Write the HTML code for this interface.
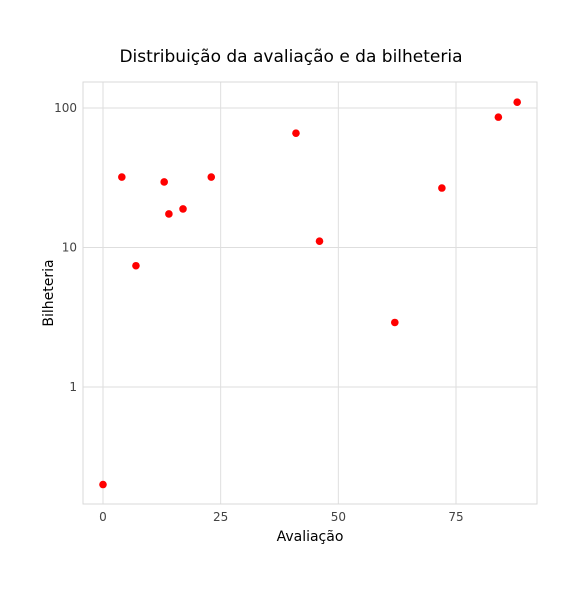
<!DOCTYPE html>
<html><head><meta charset="utf-8"><style>
body{margin:0;background:#fff;font-family:"Liberation Sans","DejaVu Sans",sans-serif;}
</style></head><body>
<svg id="chart" width="584" height="584" xmlns="http://www.w3.org/2000/svg">
<rect width="584" height="584" fill="#fff"/>
<text x="291" y="62" text-anchor="middle" font-size="17" fill="#000" font-family="DejaVu Sans, sans-serif">Distribuição da avaliação e da bilheteria</text>
<g id="grid"></g>
<rect x="83" y="82" width="454" height="422" fill="none" stroke="#d9d9d9" stroke-width="1"/>
<g id="ticks"></g>
<g id="points"></g>
<text x="310" y="541" text-anchor="middle" font-size="14" fill="#000" font-family="DejaVu Sans, sans-serif">Avaliação</text>
<text transform="translate(53,293) rotate(-90)" text-anchor="middle" font-size="14" fill="#000" font-family="DejaVu Sans, sans-serif">Bilheteria</text>
</svg>
<script>
const avaliacao=[0,4,7,13,14,17,23,41,46,62,72,84,88];
const bilheteria=[0.2,32,7.4,29.5,17.4,18.9,32,66,11.1,2.9,26.7,86,110];
const xTicks=[0,25,50,75];
const yTicks=[1,10,100];
const yTickLabels=["1","10","100"];
const NS="http://www.w3.org/2000/svg";
function xs(v){return 103+v*(456-103)/75;}
function ys(v){return 387-Math.log10(v)*139.5;}
const grid=document.getElementById('grid'),ticks=document.getElementById('ticks'),pts=document.getElementById('points');
function mk(tag,attrs,parent){const e=document.createElementNS(NS,tag);for(const k in attrs)e.setAttribute(k,attrs[k]);parent.appendChild(e);return e;}
xTicks.forEach(t=>{
  const l=mk('line',{x1:xs(t),x2:xs(t),y1:82,y2:504,stroke:'#dedede'},grid);
  
  
  const tx=mk('text',{x:xs(t),y:521,'text-anchor':'middle','font-size':12,fill:'#444','font-family':'DejaVu Sans, sans-serif'},ticks);
  tx.textContent=t;
  
  
});
yTicks.forEach((t,i)=>{
  const l=mk('line',{x1:83,x2:537,y1:ys(t),y2:ys(t),stroke:'#dedede'},grid);
  
  
  const tx=mk('text',{x:77,y:ys(t)+4,'text-anchor':'end','font-size':12,fill:'#444','font-family':'DejaVu Sans, sans-serif'},ticks);
  tx.textContent=yTickLabels[i];
  
  
});
avaliacao.forEach((a,i)=>{
  const c=mk('circle',{cx:xs(a),cy:ys(bilheteria[i]),r:3.8,fill:'#ff0000'},pts);
  
  
});
</script>
</body></html>
